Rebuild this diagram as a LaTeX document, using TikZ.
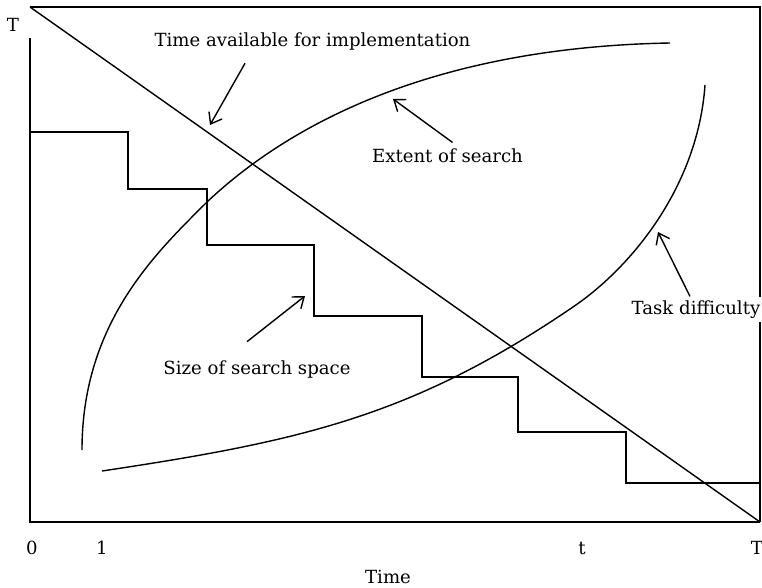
\documentclass[tikz,border=0pt]{standalone}
\usepackage{fontspec}
\setmainfont{DejaVu Serif}
\usepackage{tikz}
\usetikzlibrary{arrows,arrows.meta,calc,positioning}

\begin{document}
\begin{tikzpicture}[line width=0.8pt, font=\fontsize{10.3}{12}\selectfont, >={Straight Barb[length=2mm,width=3mm]}, lbl/.style={fill=white, inner sep=2pt}]
\useasboundingbox (-0.6cm,-1.3cm) rectangle (14.64cm,10.44cm);
\draw[black] (0cm,9.68cm) -- (0cm,0cm) -- (14.6cm,0cm);
\draw[black] (0cm,10.3cm) -- (14.6cm,10.3cm) -- (14.6cm,0cm);
\draw[black] (0cm,10.3cm) -- (14.6cm,0cm);
\draw[black] (0cm,7.8cm) -| (1.96cm,6.66cm) -| (3.54cm,5.54cm) -| (5.68cm,4.12cm) -| (7.84cm,2.9cm) -| (9.76cm,1.8cm) -| (11.92cm,0.78cm) -- (14.6cm,0.78cm);
\draw[black] (1.04cm,1.44cm) .. controls (1.04cm,4cm) and (2.54cm,5.4cm) .. (3.54cm,6.4cm)
  .. controls (5.34cm,8.1cm) and (8.3cm,9.5cm) .. (12.8cm,9.58cm);
\draw[black] (1.44cm,1.02cm) .. controls (5.44cm,1.62cm) and (7.66cm,2.12cm) .. (10.86cm,4.3cm)
  .. controls (12.06cm,5.116cm) and (13.36cm,6.74cm) .. (13.5cm,8.74cm);
\node (ylabel) at (-0.34cm,9.94cm) {T};
\node (avail) at (5.65cm,9.61cm) {Time available for implementation};
\node (extent) at (8.35cm,7.32cm) {Extent of search};
\node (space) at (4.54cm,3.04cm) {Size of search space};
\node[lbl] (task) at (13.32cm,4.25cm) {Task difficulty};
\node (tick0) at (0.04cm,-0.52cm) {0};
\node (tick1) at (1.44cm,-0.52cm) {1};
\node (tickt) at (11.04cm,-0.52cm) {t};
\node (tickT) at (14.54cm,-0.52cm) {T};
\node (xlabel) at (7.16cm,-1.1cm) {Time};
\coordinate (avail-tip) at (3.6cm,7.94cm);
\coordinate (extent-tip) at (7.26cm,8.46cm);
\coordinate (space-tip) at (5.5cm,4.52cm);
\coordinate (task-tip) at (12.56cm,5.8cm);
\draw[->] ([xshift=-1.35cm,yshift=-0.13cm]avail.south) -- (avail-tip);
\draw[->] ([xshift=0.1cm]extent.north) -- (extent-tip);
\draw[->] ([xshift=-0.2cm,yshift=0.26cm]space.north) -- (space-tip);
\draw[->] ([xshift=-0.12cm]task.north) -- (task-tip);
\end{tikzpicture}
\end{document}
